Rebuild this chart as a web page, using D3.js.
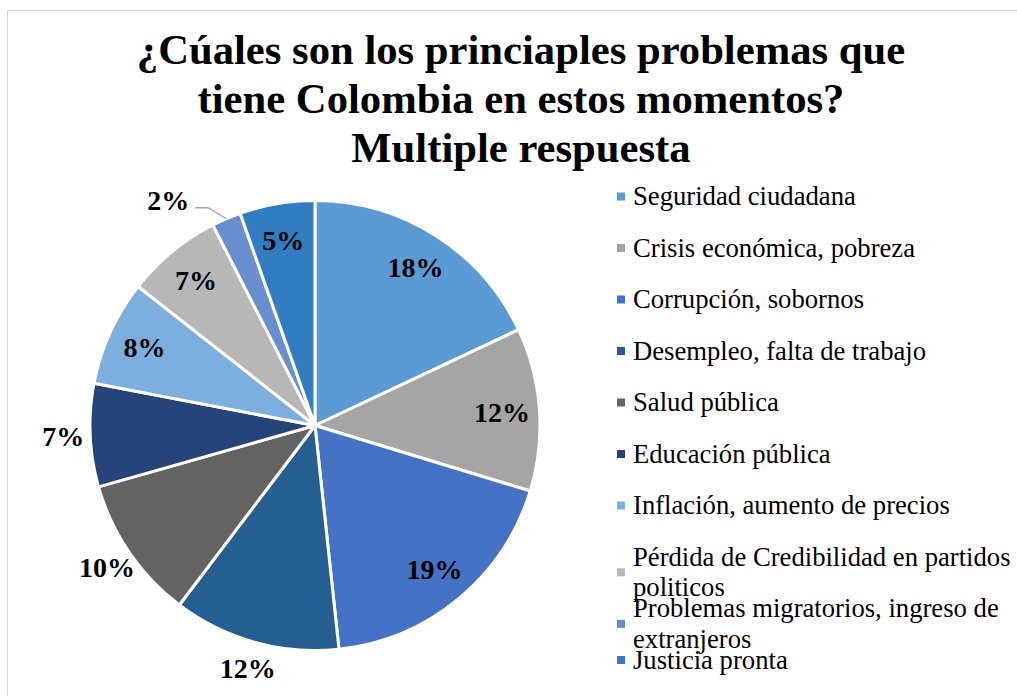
<!DOCTYPE html>
<html><head><meta charset="utf-8">
<script src="https://cdn.jsdelivr.net/npm/d3@7"></script>
<style>body{margin:0;background:#fff} svg{display:block}</style>
</head><body>
<svg id="chart" width="1017" height="696"></svg>
<script>
const titleLines = ["¿Cúales son los princiaples problemas que", "tiene Colombia en estos momentos?", "Multiple respuesta"];
const categories = ["Seguridad ciudadana", "Crisis económica, pobreza", "Corrupción, sobornos", "Desempleo, falta de trabajo", "Salud pública", "Educación pública", "Inflación, aumento de precios", "Pérdida de Credibilidad en partidos politicos", "Problemas migratorios, ingreso de extranjeros", "Justicia pronta"];
const values = [18.0, 11.7, 18.6, 12.0, 10.3, 7.4, 7.6, 6.9, 2.1, 5.4];
const colors = ["#5B9BD5", "#A5A5A5", "#4472C4", "#255E91", "#636363", "#264478", "#7CAFDD", "#B7B7B7", "#698ED0", "#327DC2"];
const labelPlacement = ["inside", "inside", "inside", "outside", "outside", "outside", "inside", "inside", "leader", "inside"];

const serif = "'Liberation Serif','Times New Roman',serif";
const svg = d3.select("#chart");

svg.append("rect").attr("x", 7.5).attr("y", 10.5).attr("width", 1030).attr("height", 700)
  .attr("fill", "#fff").attr("stroke", "#d9d9d9").attr("stroke-width", 1);

// Title
const title = svg.append("text").attr("text-anchor", "middle")
  .style("font-family", serif).style("font-weight", "bold").style("font-size", "42.67px").attr("fill", "#000");
titleLines.forEach((l, i) => title.append("tspan").attr("x", 521).attr("y", 64 + i * 49).text(l));

// Pie
const cx = 315, cy = 425.5, R = 225;
const total = d3.sum(values);
const arcs = d3.pie().sort(null).value(d => d)(values);
const arc = d3.arc().innerRadius(0).outerRadius(R);
const g = svg.append("g").attr("transform", `translate(${cx},${cy})`);
g.selectAll("path.slice").data(arcs).join("path").attr("class", "slice")
  .attr("d", arc).attr("fill", (d, i) => colors[i])
  .attr("stroke", "#fff").attr("stroke-width", 3).attr("stroke-linejoin", "round");

const fmt = d3.format(".0%");
const labelG = g.append("g").style("font-family", serif).style("font-weight", "bold").style("font-size", "28px");
arcs.forEach((d, i) => {
  const mid = (d.startAngle + d.endAngle) / 2;
  const txt = fmt(values[i] / total);
  const sx = Math.sin(mid), sy = -Math.cos(mid);
  if (labelPlacement[i] === "leader") {
    const px = sx * R, py = sy * R;
    const ex = px - 18, ey = py - 11;
    const tx = ex - 13;
    labelG.append("polyline").attr("points", `${px},${py} ${ex},${ey} ${tx},${ey}`)
      .attr("fill", "none").attr("stroke", "#a6a6a6").attr("stroke-width", 1.3);
    labelG.append("text").attr("x", tx - 6).attr("y", ey - 7).attr("dy", "0.34em")
      .attr("text-anchor", "end").text(txt);
  } else {
    const r = labelPlacement[i] === "inside" ? R * 0.833 : R * 1.12;
    labelG.append("text").attr("x", sx * r).attr("y", sy * r).attr("dy", "0.34em")
      .attr("text-anchor", "middle").text(txt);
  }
});

// Legend
const legend = svg.append("g").style("font-family", serif).style("font-size", "26.67px");
const maxW = 385, lineH = 30.67;
categories.forEach((c, i) => {
  const baseY = 205 + i * 51.5;
  const t = legend.append("text").attr("x", 633).attr("y", baseY).attr("fill", "#000");
  const words = c.split(" ");
  let line = [], tspan = t.append("tspan").attr("x", 633).attr("y", baseY), n = 1;
  words.forEach(w => {
    line.push(w);
    tspan.text(line.join(" "));
    if (tspan.node().getComputedTextLength() > maxW && line.length > 1) {
      line.pop(); tspan.text(line.join(" "));
      line = [w];
      tspan = t.append("tspan").attr("x", 633).attr("y", baseY + n * lineH).text(w);
      n++;
    }
  });
  const cyq = baseY - 8.5 + (n - 1) * lineH / 2;
  legend.append("rect").attr("x", 617).attr("y", cyq - 4).attr("width", 8).attr("height", 8).attr("fill", colors[i]);
});
</script>
</body></html>
